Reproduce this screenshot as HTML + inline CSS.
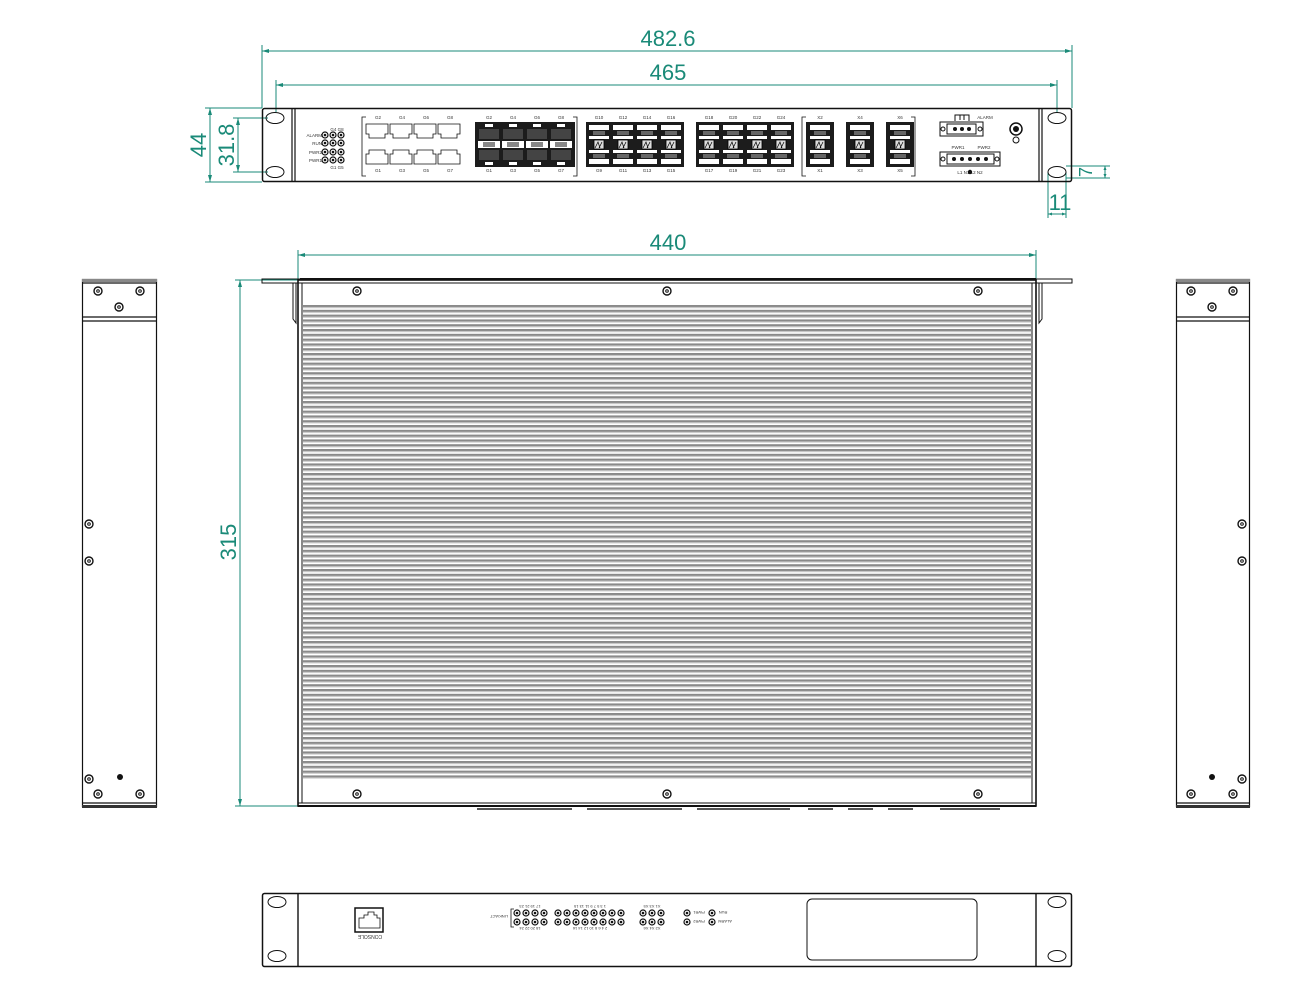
<!DOCTYPE html>
<html><head><meta charset="utf-8"><style>
html,body{margin:0;padding:0;background:#fff;}
svg{display:block}
text{font-family:"Liberation Sans",sans-serif}
.d{fill:#1a8a78;font-size:22px}
.s{font-size:4.5px;fill:#333}
</style></head><body>
<svg width="1291" height="1004" viewBox="0 0 1291 1004" xmlns="http://www.w3.org/2000/svg">
<defs>
<pattern id="fins" x="0" y="305" width="10" height="4.8" patternUnits="userSpaceOnUse">
<rect width="10" height="4.8" fill="#fff"/>
<rect y="0" width="10" height="2.2" fill="#8a8a8a"/>
<rect y="2.2" width="10" height="1" fill="#c8c8c8"/>
</pattern>
<g id="screw"><circle r="4" fill="#fff" stroke="#111" stroke-width="1.4"/><circle r="1.8" fill="#111"/><circle r="0.8" fill="#fff"/></g>
<g id="led"><circle r="3" fill="#fff" stroke="#111" stroke-width="1.2"/><circle r="1.3" fill="#111"/></g>
<g id="rj"><path d="M0,0h22v10h-3v4h-16v-4h-3z" fill="#fff" stroke="#111" stroke-width="0.8"/></g>
<g id="rjb"><path d="M0,0h22v-10h-3v-4h-16v4h-3z" fill="#fff" stroke="#111" stroke-width="0.8"/></g>
<g id="sfp"><rect x="0" y="0" width="24" height="45" fill="#1c1c1c"/>
<rect x="2" y="3" width="20" height="5" fill="#fff"/><rect x="2" y="37" width="20" height="5" fill="#fff"/>
<rect x="2" y="14" width="20" height="3" fill="#fff"/><rect x="2" y="28" width="20" height="3" fill="#fff"/>
<rect x="6" y="9" width="12" height="4" fill="#666"/><rect x="6" y="32" width="12" height="4" fill="#666"/>
<rect x="7" y="18" width="10" height="9" fill="#ddd" stroke="#000" stroke-width="0.8"/>
<path d="M8,26l3,-6l2,6M12,26l3,-6" stroke="#000" stroke-width="0.7" fill="none"/></g>
<g id="combo"><rect x="0" y="0" width="24" height="45" fill="#1c1c1c"/>
<rect x="8" y="2" width="8" height="3" fill="#fff"/><rect x="8" y="40" width="8" height="3" fill="#fff"/>
<rect x="2" y="7" width="20" height="10" fill="#444"/><rect x="2" y="28" width="20" height="10" fill="#444"/>
<rect x="1" y="19" width="22" height="7" fill="#fff"/><rect x="6" y="20" width="12" height="5" fill="#888"/></g>
</defs>

<g stroke="#1a8a78" stroke-width="1" fill="none">
<line x1="262" y1="45" x2="262" y2="108"/><line x1="1072" y1="45" x2="1072" y2="108"/>
<line x1="262" y1="51" x2="1072" y2="51"/>
<line x1="276" y1="80" x2="276" y2="112"/><line x1="1057" y1="80" x2="1057" y2="112"/>
<line x1="276" y1="85" x2="1057" y2="85"/>
<line x1="205" y1="108" x2="262" y2="108"/><line x1="205" y1="182" x2="262" y2="182"/>
<line x1="210" y1="108" x2="210" y2="182"/>
<line x1="233" y1="118" x2="268" y2="118"/><line x1="233" y1="172" x2="268" y2="172"/>
<line x1="238" y1="118" x2="238" y2="172"/>
<line x1="1048" y1="172" x2="1048" y2="218"/><line x1="1066" y1="172" x2="1066" y2="218"/>
<line x1="1048" y1="214" x2="1066" y2="214"/>
<line x1="1066" y1="166" x2="1110" y2="166"/><line x1="1066" y1="178" x2="1110" y2="178"/>
<line x1="1105" y1="166" x2="1105" y2="178"/>
<line x1="298" y1="250" x2="298" y2="280"/><line x1="1036" y1="250" x2="1036" y2="280"/>
<line x1="298" y1="255" x2="1036" y2="255"/>
<line x1="235" y1="280" x2="298" y2="280"/><line x1="235" y1="806" x2="298" y2="806"/>
<line x1="240" y1="280" x2="240" y2="806"/>
</g>
<g fill="#1a8a78">
<path d="M262,51l7,-2v4z M1072,51l-7,-2v4z M276,85l7,-2v4z M1057,85l-7,-2v4z M210,108l-2,7h4z M210,182l-2,-7h4z M238,118l-2,7h4z M238,172l-2,-7h4z M298,255l7,-2v4z M1036,255l-7,-2v4z M240,280l-2,7h4z M240,806l-2,-7h4z M1048,214l4,-1.5v3z M1066,214l-4,-1.5v3z M1105,166l-1.5,4h3z M1105,178l-1.5,-4h3z"/>
</g>
<text class="d" x="668" y="46" text-anchor="middle">482.6</text>
<text class="d" x="668" y="80" text-anchor="middle">465</text>
<text class="d" x="668" y="250" text-anchor="middle">440</text>
<text class="d" x="1060" y="210" text-anchor="middle">11</text>
<text class="d" transform="translate(206,145) rotate(-90)" text-anchor="middle">44</text>
<text class="d" transform="translate(234,145) rotate(-90)" text-anchor="middle">31.8</text>
<text class="d" transform="translate(236,542) rotate(-90)" text-anchor="middle">315</text>
<text class="d" transform="translate(1092,172) rotate(-90)" text-anchor="middle" style="font-size:18px">7</text>

<g fill="none" stroke="#111">
<rect x="262.5" y="108.5" width="809" height="73" rx="2" stroke-width="1.5"/>
<line x1="292" y1="109" x2="292" y2="181" stroke-width="1.2"/><line x1="295" y1="109" x2="295" y2="181" stroke-width="1.2"/>
<line x1="1039" y1="109" x2="1039" y2="181" stroke-width="1.2"/><line x1="1042" y1="109" x2="1042" y2="181" stroke-width="1.2"/>
<ellipse cx="275" cy="118" rx="9" ry="5.5"/><ellipse cx="275" cy="172" rx="9" ry="5.5"/>
<ellipse cx="1057" cy="118" rx="9" ry="5.5"/><ellipse cx="1057" cy="172" rx="9" ry="5.5"/>
</g>
<g class="s" text-anchor="end">
<text x="322" y="137">ALARM</text><text x="322" y="145">RUN</text><text x="322" y="154">PWR2</text><text x="322" y="162">PWR1</text>
</g>
<text class="s" x="337" y="131" text-anchor="middle">G4 G8</text>
<text class="s" x="337" y="169" text-anchor="middle">G1 G5</text>
<g>
<use href="#led" x="325" y="135"/><use href="#led" x="333" y="135"/><use href="#led" x="341" y="135"/>
<use href="#led" x="325" y="143"/><use href="#led" x="333" y="143"/><use href="#led" x="341" y="143"/>
<use href="#led" x="325" y="152"/><use href="#led" x="333" y="152"/><use href="#led" x="341" y="152"/>
<use href="#led" x="325" y="160"/><use href="#led" x="333" y="160"/><use href="#led" x="341" y="160"/>
</g>
<g fill="none" stroke="#111" stroke-width="0.8">
<path d="M366,117h-4v59h4M573,117h4v59h-4"/>
<path d="M806,117h-4v59h4M911,117h4v59h-4"/>
</g>
<use href="#rj" x="366" y="124"/><use href="#rj" x="390" y="124"/><use href="#rj" x="414" y="124"/><use href="#rj" x="438" y="124"/>
<use href="#rjb" x="366" y="164"/><use href="#rjb" x="390" y="164"/><use href="#rjb" x="414" y="164"/><use href="#rjb" x="438" y="164"/>
<rect x="475" y="122" width="100" height="45" fill="#1c1c1c"/>
<use href="#combo" x="477" y="122"/><use href="#combo" x="501" y="122"/><use href="#combo" x="525" y="122"/><use href="#combo" x="549" y="122"/>
<rect x="586" y="122" width="98" height="45" fill="#1c1c1c"/>
<use href="#sfp" x="587" y="122"/><use href="#sfp" x="611" y="122"/><use href="#sfp" x="635" y="122"/><use href="#sfp" x="659" y="122"/>
<rect x="696" y="122" width="98" height="45" fill="#1c1c1c"/>
<use href="#sfp" x="697" y="122"/><use href="#sfp" x="721" y="122"/><use href="#sfp" x="745" y="122"/><use href="#sfp" x="769" y="122"/>
<rect x="806" y="122" width="28" height="45" fill="#1c1c1c"/><use href="#sfp" x="808" y="122"/>
<rect x="846" y="122" width="28" height="45" fill="#1c1c1c"/><use href="#sfp" x="848" y="122"/>
<rect x="886" y="122" width="28" height="45" fill="#1c1c1c"/><use href="#sfp" x="888" y="122"/>
<g class="s" text-anchor="middle">
<text x="378" y="119">G2</text><text x="402" y="119">G4</text><text x="426" y="119">G6</text><text x="450" y="119">G8</text>
<text x="378" y="172">G1</text><text x="402" y="172">G3</text><text x="426" y="172">G5</text><text x="450" y="172">G7</text>
<text x="489" y="119">G2</text><text x="513" y="119">G4</text><text x="537" y="119">G6</text><text x="561" y="119">G8</text>
<text x="489" y="172">G1</text><text x="513" y="172">G3</text><text x="537" y="172">G5</text><text x="561" y="172">G7</text>
<text x="599" y="119">G10</text><text x="623" y="119">G12</text><text x="647" y="119">G14</text><text x="671" y="119">G16</text>
<text x="599" y="172">G9</text><text x="623" y="172">G11</text><text x="647" y="172">G13</text><text x="671" y="172">G15</text>
<text x="709" y="119">G18</text><text x="733" y="119">G20</text><text x="757" y="119">G22</text><text x="781" y="119">G24</text>
<text x="709" y="172">G17</text><text x="733" y="172">G19</text><text x="757" y="172">G21</text><text x="781" y="172">G23</text>
<text x="820" y="119">X2</text><text x="860" y="119">X4</text><text x="900" y="119">X6</text>
<text x="820" y="172">X1</text><text x="860" y="172">X3</text><text x="900" y="172">X5</text>
<text x="985" y="119">ALARM</text><text x="958" y="149">PWR1</text><text x="984" y="149">PWR2</text>
<text x="970" y="174">L1  N1      L2  N2</text>
</g>
<g fill="none" stroke="#111" stroke-width="1">
<path d="M955,121v-6h14v6M960,115v5M964,115v5"/>
<rect x="940" y="122" width="43" height="14"/><rect x="947" y="124" width="29" height="10"/>
<rect x="940" y="152" width="60" height="14"/><rect x="947" y="154" width="47" height="10"/>
<circle cx="943" cy="129" r="2"/><circle cx="980" cy="129" r="2"/><circle cx="943" cy="159" r="2"/><circle cx="997" cy="159" r="2"/>
<circle cx="1016" cy="129" r="6" stroke-width="1.5"/><circle cx="1016" cy="140" r="3"/>
</g>
<g fill="#111"><circle cx="955" cy="129" r="2"/><circle cx="962" cy="129" r="2"/><circle cx="969" cy="129" r="2"/>
<circle cx="954" cy="159" r="2"/><circle cx="962" cy="159" r="2"/><circle cx="970" cy="159" r="2"/><circle cx="978" cy="159" r="2"/><circle cx="986" cy="159" r="2"/>
<circle cx="1016" cy="129" r="3"/><circle cx="970" cy="172" r="2.2"/></g>

<g fill="none" stroke="#111">
<path d="M262,279h810v4h-810z" stroke-width="1"/>
<path d="M293,283v36l3,4v-40 M1042,283v36l-3,4v-40" stroke-width="1"/>
<rect x="298" y="280" width="738" height="526" stroke-width="1.6"/>
<line x1="302" y1="283" x2="302" y2="803"/><line x1="1032" y1="283" x2="1032" y2="803"/>
<line x1="298" y1="283" x2="1036" y2="283"/><line x1="298" y1="803" x2="1036" y2="803"/>
</g>
<rect x="303" y="305" width="728" height="475" fill="url(#fins)"/>
<line x1="300" y1="279" x2="1036" y2="279" stroke="#111" stroke-width="2"/>
<line x1="298" y1="806" x2="1036" y2="806" stroke="#111" stroke-width="2"/>
<g stroke="#555" stroke-width="2"><line x1="477" y1="809" x2="572" y2="809"/><line x1="587" y1="809" x2="682" y2="809"/><line x1="697" y1="809" x2="790" y2="809"/><line x1="808" y1="809" x2="833" y2="809"/><line x1="848" y1="809" x2="873" y2="809"/><line x1="888" y1="809" x2="913" y2="809"/><line x1="940" y1="809" x2="1000" y2="809"/></g>
<use href="#screw" x="357" y="291"/><use href="#screw" x="667" y="291"/><use href="#screw" x="978" y="291"/>
<use href="#screw" x="357" y="794"/><use href="#screw" x="667" y="794"/><use href="#screw" x="978" y="794"/>

<g fill="none" stroke="#111" stroke-width="1.2">
<rect x="82.5" y="279.5" width="74" height="527"/>
<line x1="83" y1="283" x2="156" y2="283"/><line x1="83" y1="317" x2="156" y2="317"/><line x1="83" y1="321" x2="156" y2="321"/>
<line x1="83" y1="803" x2="156" y2="803"/>
<rect x="1176.5" y="279.5" width="73" height="527"/>
<line x1="1177" y1="283" x2="1249" y2="283"/><line x1="1177" y1="317" x2="1249" y2="317"/><line x1="1177" y1="321" x2="1249" y2="321"/>
<line x1="1177" y1="803" x2="1249" y2="803"/>
</g>
<rect x="82" y="279" width="75" height="3" fill="#888"/><rect x="1176" y="279" width="74" height="3" fill="#888"/>
<rect x="82" y="805" width="75" height="3" fill="#333"/><rect x="1176" y="805" width="74" height="3" fill="#333"/>
<use href="#screw" x="98" y="291"/><use href="#screw" x="140" y="291"/><use href="#screw" x="119" y="307"/>
<use href="#screw" x="89" y="524"/><use href="#screw" x="89" y="561"/>
<use href="#screw" x="89" y="779"/><use href="#screw" x="98" y="794"/><use href="#screw" x="140" y="794"/>
<circle cx="120" cy="777" r="3" fill="#111"/>
<use href="#screw" x="1191" y="291"/><use href="#screw" x="1233" y="291"/><use href="#screw" x="1212" y="307"/>
<use href="#screw" x="1242" y="524"/><use href="#screw" x="1242" y="561"/>
<use href="#screw" x="1242" y="779"/><use href="#screw" x="1191" y="794"/><use href="#screw" x="1233" y="794"/>
<circle cx="1212" cy="777" r="3" fill="#111"/>

<g fill="none" stroke="#111">
<rect x="262.5" y="893.5" width="809" height="73" rx="2" stroke-width="1.5"/>
<line x1="298" y1="894" x2="298" y2="966" stroke-width="1.4"/><line x1="1036" y1="894" x2="1036" y2="966" stroke-width="1.4"/>
<ellipse cx="277" cy="902" rx="9" ry="5.5"/><ellipse cx="277" cy="956" rx="9" ry="5.5"/>
<ellipse cx="1057" cy="902" rx="9" ry="5.5"/><ellipse cx="1057" cy="956" rx="9" ry="5.5"/>
<rect x="355" y="908" width="28" height="24" stroke-width="1.5"/>
<path d="M359,928v-10h5v-3h4v-3h6v3h3v3h3v10z" stroke-width="0.8"/>
<rect x="807" y="899" width="170" height="61" rx="5"/>
<path d="M514,909h-3v18h3" stroke-width="0.8"/>
</g>
<g transform="rotate(180 370 937)"><text class="s" x="370" y="939" text-anchor="middle" style="font-size:5px">CONSOLE</text></g>
<g>
<use href="#led" x="517" y="913"/><use href="#led" x="526" y="913"/><use href="#led" x="535" y="913"/><use href="#led" x="544" y="913"/>
<use href="#led" x="517" y="922"/><use href="#led" x="526" y="922"/><use href="#led" x="535" y="922"/><use href="#led" x="544" y="922"/>
<use href="#led" x="558" y="913"/><use href="#led" x="567" y="913"/><use href="#led" x="576" y="913"/><use href="#led" x="585" y="913"/><use href="#led" x="594" y="913"/><use href="#led" x="603" y="913"/><use href="#led" x="612" y="913"/><use href="#led" x="621" y="913"/>
<use href="#led" x="558" y="922"/><use href="#led" x="567" y="922"/><use href="#led" x="576" y="922"/><use href="#led" x="585" y="922"/><use href="#led" x="594" y="922"/><use href="#led" x="603" y="922"/><use href="#led" x="612" y="922"/><use href="#led" x="621" y="922"/>
<use href="#led" x="643" y="913"/><use href="#led" x="652" y="913"/><use href="#led" x="661" y="913"/>
<use href="#led" x="643" y="922"/><use href="#led" x="652" y="922"/><use href="#led" x="661" y="922"/>
<use href="#led" x="687" y="913"/><use href="#led" x="687" y="922"/><use href="#led" x="712" y="913"/><use href="#led" x="712" y="922"/>
</g>
<g class="s" text-anchor="middle" style="font-size:4px">
<g transform="rotate(180 530 907)"><text x="530" y="909">17  19  21  23</text></g>
<g transform="rotate(180 530 929)"><text x="530" y="931">18  20  22  24</text></g>
<g transform="rotate(180 590 907)"><text x="590" y="909">1   3   5   7   9   11  13  15</text></g>
<g transform="rotate(180 590 929)"><text x="590" y="931">2   4   6   8   10  12  14  16</text></g>
<g transform="rotate(180 652 907)"><text x="652" y="909">X1 X3 X5</text></g>
<g transform="rotate(180 652 929)"><text x="652" y="931">X2 X4 X6</text></g>
<g transform="rotate(180 499 917)"><text x="499" y="919">LINK/ACT</text></g>
<g transform="rotate(180 699 913)"><text x="699" y="915">PWR1</text></g>
<g transform="rotate(180 699 922)"><text x="699" y="924">PWR2</text></g>
<g transform="rotate(180 723 913)"><text x="723" y="915">RUN</text></g>
<g transform="rotate(180 725 922)"><text x="725" y="924">ALARM</text></g>
</g>
</svg>
</body></html>
